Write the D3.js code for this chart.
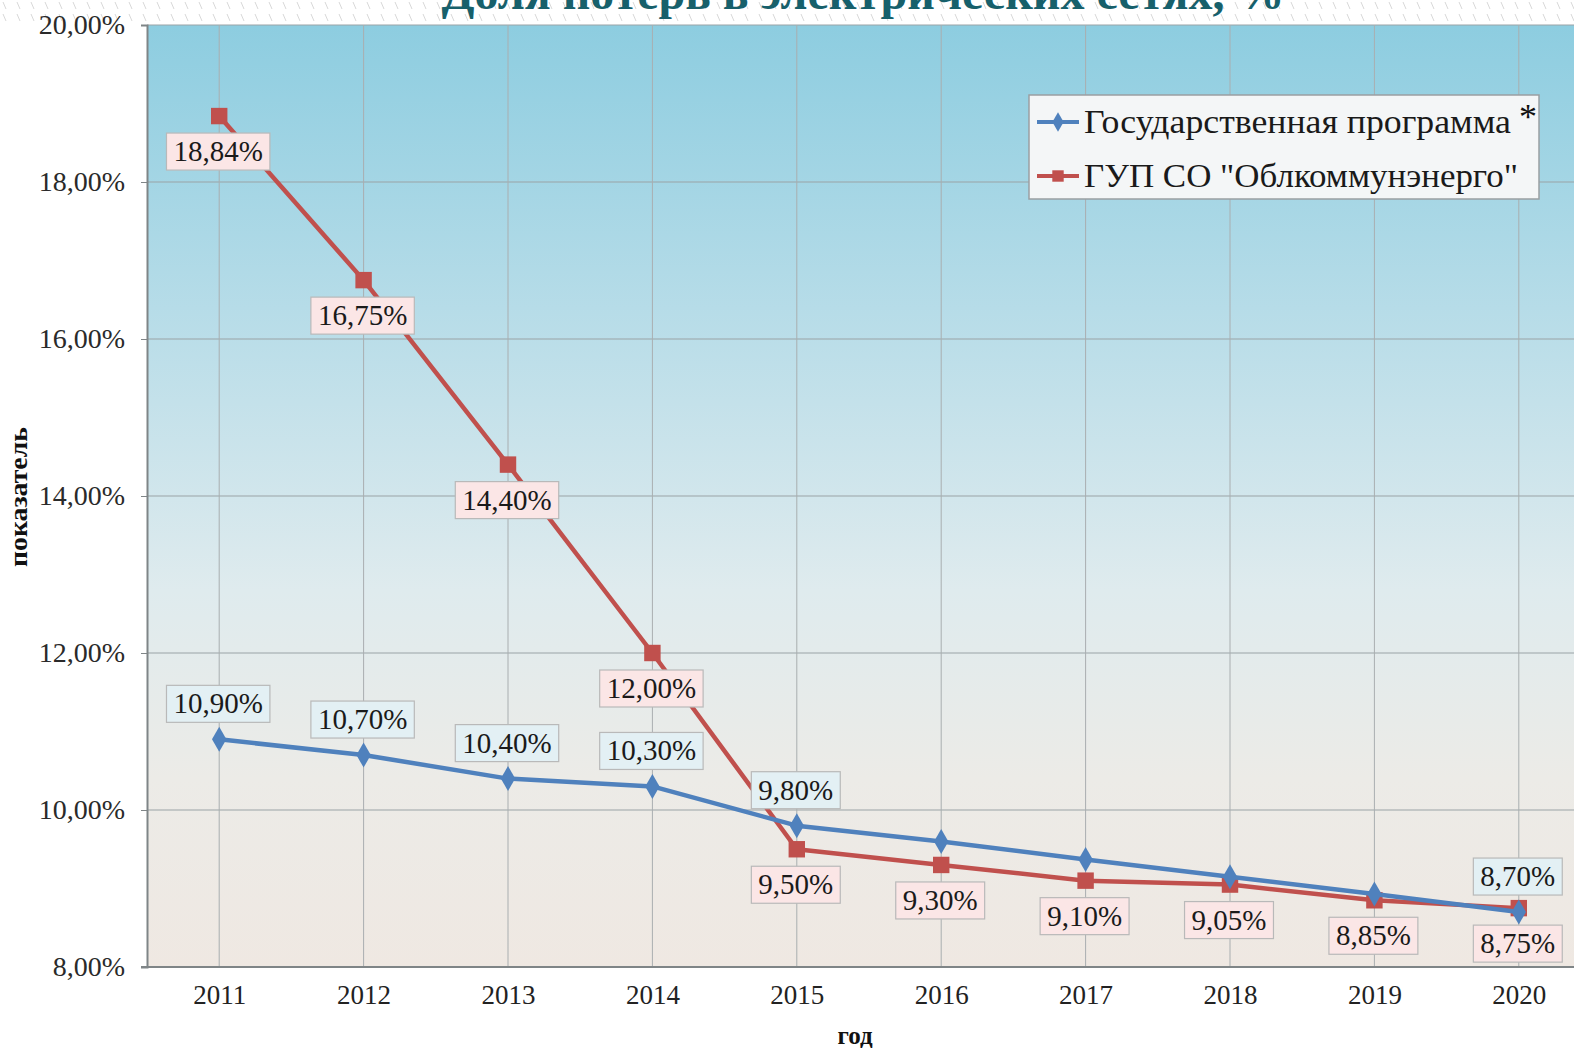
<!DOCTYPE html>
<html>
<head>
<meta charset="utf-8">
<script src="https://cdn.jsdelivr.net/npm/d3@7"></script>
<style>
  body { margin: 0; background: #fff; }
  svg { display: block; font-family: "Liberation Serif", "Times New Roman", serif; }
</style>
</head>
<body>
<svg id="chart" width="1574" height="1048"></svg>
<script>
// data
var years = ['2011', '2012', '2013', '2014', '2015', '2016', '2017', '2018', '2019', '2020'];
var govValues = [10.90, 10.70, 10.40, 10.30, 9.80, 9.60, 9.37, 9.15, 8.93, 8.70];
var gupValues = [18.84, 16.75, 14.40, 12.00, 9.50, 9.30, 9.10, 9.05, 8.85, 8.75];
var govLabelShown = [true, true, true, true, true, false, false, false, false, true];
var yTicks = [8, 10, 12, 14, 16, 18, 20];
var seriesNames = ['Государственная программа', 'ГУП СО "Облкоммунэнерго"'];

var svg = d3.select('#chart');
var W = 1574, H = 1048;
var plot = { left: 147, top: 25, right: 1591, bottom: 967 };

var x = d3.scalePoint().domain(years).range([plot.left, plot.right]).padding(0.5);
var y = d3.scaleLinear().domain([8, 20]).range([plot.bottom, plot.top]);

var fmt = function(v) { return d3.format('.2f')(v).replace('.', ',') + '%'; };

var defs = svg.append('defs');
var grad = defs.append('linearGradient')
    .attr('id', 'bg').attr('x1', 0).attr('y1', 0).attr('x2', 0).attr('y2', 1);
[[0, '#8dcde0'], [0.3, '#b6dce8'], [0.6, '#dfebee'], [0.8, '#ecebe7'], [1, '#efe8e2']]
    .forEach(function(s) { grad.append('stop').attr('offset', s[0]).attr('stop-color', s[1]); });

// faint dashed strip at the top
var pat = defs.append('pattern').attr('id', 'dots')
    .attr('width', 14).attr('height', 12).attr('patternUnits', 'userSpaceOnUse');
pat.append('line').attr('x1', 3).attr('y1', 2).attr('x2', 6).attr('y2', 9)
    .attr('stroke', '#d8d8d8').attr('stroke-width', 1);
svg.append('rect').attr('x', 0).attr('y', 0).attr('width', W).attr('height', 22).attr('fill', 'url(#dots)');

svg.append('rect')
    .attr('x', plot.left).attr('y', plot.top)
    .attr('width', W - plot.left).attr('height', plot.bottom - plot.top)
    .attr('fill', 'url(#bg)');

// grid
svg.append('g').selectAll('line').data(yTicks.slice(1)).enter().append('line')
    .attr('x1', plot.left).attr('x2', W)
    .attr('y1', function(d) { return y(d); }).attr('y2', function(d) { return y(d); })
    .attr('stroke', '#9aa3a6').attr('stroke-width', 1);
svg.append('g').selectAll('line').data(years).enter().append('line')
    .attr('x1', function(d) { return x(d); }).attr('x2', function(d) { return x(d); })
    .attr('y1', plot.top).attr('y2', plot.bottom)
    .attr('stroke', '#a9aeb0').attr('stroke-width', 1);

// axes
var yAxis = svg.append('g')
    .attr('transform', 'translate(' + plot.left + ',0)')
    .call(d3.axisLeft(y).tickValues(yTicks).tickFormat(fmt).tickSize(6).tickPadding(16));
yAxis.select('.domain').attr('stroke', '#7f8587').attr('stroke-width', 2);
yAxis.selectAll('.tick line').attr('stroke', '#7f8587');
yAxis.selectAll('text').attr('font-size', 28).attr('fill', '#2a2a2a')
    .attr('font-family', '"Liberation Serif", serif');

var xAxis = svg.append('g')
    .attr('transform', 'translate(0,' + plot.bottom + ')')
    .call(d3.axisBottom(x).tickSize(0).tickPadding(18));
xAxis.select('.domain').remove();
xAxis.selectAll('text').attr('font-size', 27).attr('fill', '#222')
    .attr('font-family', '"Liberation Serif", serif');
svg.append('line').attr('x1', plot.left - 6).attr('x2', W)
    .attr('y1', plot.bottom).attr('y2', plot.bottom)
    .attr('stroke', '#7f8587').attr('stroke-width', 2);

// axis titles
svg.append('text').attr('x', 855).attr('y', 1044).attr('text-anchor', 'middle')
    .attr('font-size', 25).attr('font-weight', 'bold').attr('fill', '#111').text('год');
svg.append('text').attr('transform', 'translate(27,497) rotate(-90)').attr('text-anchor', 'middle')
    .attr('font-size', 26).attr('font-weight', 'bold').attr('fill', '#111')
    .attr('textLength', 140).attr('lengthAdjust', 'spacingAndGlyphs').text('показатель');

// title (cut at the top in the original)
svg.append('text').attr('x', 863).attr('y', 9).attr('text-anchor', 'middle')
    .attr('font-size', 48).attr('font-weight', 'bold').attr('fill', '#17606b')
    .text('Доля потерь в электрических сетях, %');

// lines
var line = d3.line()
    .x(function(d, i) { return x(years[i]); })
    .y(function(d) { return y(d); });

function drawSeries(values, color, shape, size) {
    svg.append('path').datum(values)
        .attr('d', line).attr('fill', 'none')
        .attr('stroke', color).attr('stroke-width', 4.5).attr('stroke-linejoin', 'round');
    svg.append('g').selectAll('path').data(values).enter().append('path')
        .attr('d', d3.symbol().type(shape).size(size))
        .attr('transform', function(d, i) { return 'translate(' + x(years[i]) + ',' + y(d) + ')'; })
        .attr('fill', color);
}
drawSeries(gupValues, '#c0504d', d3.symbolSquare, 270);
drawSeries(govValues, '#4f81bd', d3.symbolDiamond, 180);

// data labels
function drawLabels(values, shown, dy, fill) {
    var g = svg.append('g');
    values.forEach(function(v, i) {
        if (!shown[i]) return;
        var cx = x(years[i]) - 1, cy = y(v) + dy;
        var t = g.append('text').attr('x', cx).attr('y', cy + 10)
            .attr('text-anchor', 'middle').attr('font-size', 29).attr('fill', '#1a1a1a')
            .text(fmt(v));
        var w = t.node().getComputedTextLength() + 14;
        g.insert('rect', 'text')
            .attr('x', cx - w / 2).attr('y', cy - 18)
            .attr('width', w).attr('height', 37)
            .attr('fill', fill).attr('stroke', '#b9b9b9').attr('stroke-width', 1.2);
    });
}
drawLabels(gupValues, gupValues.map(function() { return true; }), 35, '#fbe6e6');
drawLabels(govValues, govLabelShown, -36, '#e3f0f4');

// legend
var lg = svg.append('g').attr('transform', 'translate(1029,95)');
lg.append('rect').attr('width', 510).attr('height', 104)
    .attr('fill', '#f4f6f7').attr('stroke', '#9a9fa2').attr('stroke-width', 1.5);
var legendItems = [
    { name: seriesNames[0], color: '#4f81bd', shape: d3.symbolDiamond, size: 110, ly: 27, len: 427 },
    { name: seriesNames[1], color: '#c0504d', shape: d3.symbolSquare, size: 130, ly: 81, len: 434 }
];
legendItems.forEach(function(d) {
    lg.append('line').attr('x1', 8).attr('x2', 50).attr('y1', d.ly).attr('y2', d.ly)
        .attr('stroke', d.color).attr('stroke-width', 4);
    lg.append('path').attr('d', d3.symbol().type(d.shape).size(d.size)())
        .attr('transform', 'translate(29,' + d.ly + ')').attr('fill', d.color);
    lg.append('text').attr('x', 55).attr('y', d.ly + 11)
        .attr('font-size', 34).attr('fill', '#1a1a1a')
        .attr('textLength', d.len).attr('lengthAdjust', 'spacingAndGlyphs').text(d.name);
});
lg.append('text').attr('x', 499).attr('y', 34).attr('text-anchor', 'middle')
    .attr('font-size', 36).attr('fill', '#111').text('*');
</script>
</body>
</html>
